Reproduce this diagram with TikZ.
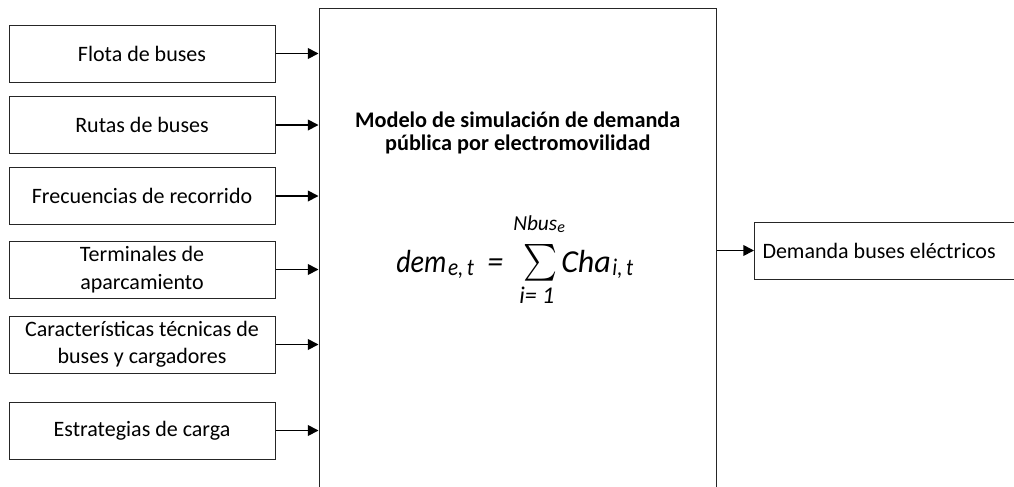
\documentclass[tikz,border=0pt]{standalone}
\usepackage{fontspec}
\setmainfont{Carlito}
\usepackage{graphicx}
\usetikzlibrary{arrows.meta}
\newcommand\narrowtxt[1]{\scalebox{0.88}[1]{#1}}
\begin{document}
\begin{tikzpicture}[x=0.75pt,y=-0.75pt,
  inbox/.style={draw=black!85, line width=0.75pt, minimum width=199.5pt, minimum height=42.75pt, align=center, inner sep=0pt, font=\fontsize{16.5}{20.5}\selectfont},
  arr/.style={line width=1.3pt, -{Triangle[length=8pt,width=8pt]}},
  eq/.style={inner sep=0pt, anchor=base west, font=\fontsize{24}{24}\selectfont\itshape},
  eqsub/.style={inner sep=0pt, anchor=base west, font=\fontsize{18}{18}\selectfont\itshape},
  ttl/.style={inner sep=0pt, anchor=base, font=\fontsize{16.7}{18}\selectfont\bfseries}
]
\useasboundingbox (0,0) rectangle (1014,486);
\clip (0,0) rectangle (1014,486);
\fill[white] (0,0) rectangle (1014,486);
\node[draw=black!85, line width=0.75pt, minimum width=298.1pt, minimum height=376.5pt, inner sep=0pt] (main) at (517.75,259) {};
\node[ttl] (t1) at (517.75,127) {Modelo de simulación de demanda};
\node[ttl] (t2) at (517.75,150) {pública por electromovilidad};

\node[inbox] (in1) at (142,53.5) {Flota de buses};
\node[inbox] (in2) at (142,125) {Rutas de buses};
\node[inbox] (in3) at (142,196) {Frecuencias de recorrido};
\node[inbox] (in4) at (142,269.5) {Terminales de\\aparcamiento};
\node[inbox] (in5) at (142,344.5) {Características técnicas de\\buses y cargadores};
\node[inbox] (in6) at (142,430.5) {Estrategias de carga};
\foreach \i in {1,...,6}{
  \draw[arr] (in\i.east) -- (in\i.east -| main.west);
}

\node[draw=black!85, line width=0.75pt, minimum width=214.5pt, minimum height=42.75pt, inner xsep=6pt, inner ysep=0pt, text width=202.5pt, align=flush left, font=\fontsize{16.5}{20}\selectfont, anchor=west] (out) at (754,250.5) {Demanda buses eléctricos};
\draw[arr] (main.east |- out.west) -- (out.west);

\node[eq] (dem) at (396,272) {\narrowtxt{dem}};
\node[eqsub] (demsub) at ([shift={(1,3)}]dem.base east) {\narrowtxt{e,\,t}};
\node[eq] (eqsign) at (487,272) {=};
\node[inner sep=0pt] (sum) at (540,263) {\resizebox*{25.5pt}{27.5pt}{$\sum$}};
\node[eqsub, font=\fontsize{16}{16}\selectfont\itshape] (nbus) at (513,230) {Nbus\raisebox{-0.12em}{\fontsize{12}{12}\selectfont e}};
\node[eqsub, font=\fontsize{18}{18}\selectfont\itshape] (ilow) at (519,303) {i= 1};
\node[eq] (cha) at (561,272) {Cha};
\node[eqsub] (chasub) at ([shift={(1,3)}]cha.base east) {\narrowtxt{i,\,t}};
\end{tikzpicture}
\end{document}
